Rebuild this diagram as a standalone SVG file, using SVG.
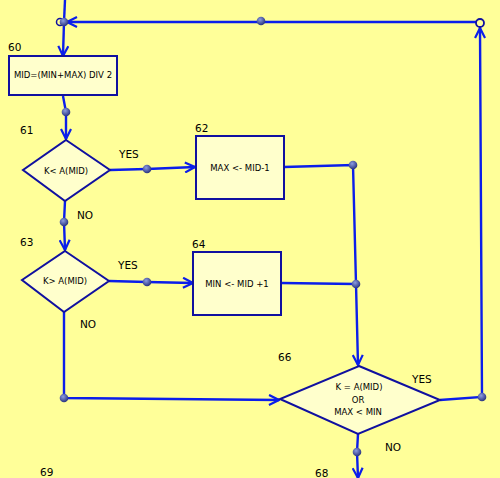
<svg xmlns="http://www.w3.org/2000/svg" width="500" height="478" viewBox="0 0 500 478">
<style>
.bg{fill:#FFFF99}
.node{fill:#FFFFCC;stroke:#1010A0;stroke-width:2}
.c{fill:none;stroke:#0B1EEA;stroke-width:2.4}
.t{font-family:"DejaVu Sans","Liberation Sans",sans-serif;font-size:8.5px;fill:#000;text-anchor:middle}
.lbl{font-family:"DejaVu Sans","Liberation Sans",sans-serif;font-size:10.5px;fill:#000}
.dot{fill:url(#g)}
</style>
<defs>
<radialGradient id="g" cx="0.4" cy="0.35" r="0.7">
<stop offset="0" stop-color="#8C9CE0"/>
<stop offset="1" stop-color="#222C78"/>
</radialGradient>
<marker id="a" viewBox="0 0 12 12" refX="11" refY="6" markerWidth="12" markerHeight="12" markerUnits="userSpaceOnUse" orient="auto">
<path d="M1,1 L11,6 L1,11" fill="none" stroke="#0B1EEA" stroke-width="2.2"/>
</marker>
</defs>
<rect class="bg" width="500" height="478"/>
<g id="connectors">
<path class="c" d="M65,0 L64,22"/>
<path class="c" d="M480,27 L480,22 L67,22" marker-end="url(#a)"/>
<path class="c" d="M64,22 L63,56" marker-end="url(#a)"/>
<path class="c" d="M63,96 L66,112 L66,139" marker-end="url(#a)"/>
<path class="c" d="M110,170 L147,169 L195,167" marker-end="url(#a)"/>
<path class="c" d="M65,201 L64,222 L65,250" marker-end="url(#a)"/>
<path class="c" d="M109,281 L147,282 L193,283" marker-end="url(#a)"/>
<path class="c" d="M284,167 L353,165 L356,284 L358,365" marker-end="url(#a)"/>
<path class="c" d="M281,283 L356,284"/>
<path class="c" d="M64,312 L64,398 L279,400" marker-end="url(#a)"/>
<path class="c" d="M440,400 L482,397 L480,28" marker-end="url(#a)"/>
<path class="c" d="M358,434 L357,452 L358,478" marker-end="url(#a)"/>
<circle cx="60" cy="22" r="3.5" fill="none" stroke="#1010A0" stroke-width="1.5"/>
<circle cx="480" cy="23" r="4" fill="#FFFF99" stroke="#1010A0" stroke-width="1.8"/>
<circle class="dot" cx="64" cy="22" r="4.3"/>
<circle class="dot" cx="261" cy="21" r="4.3"/>
<circle class="dot" cx="66" cy="112" r="4.3"/>
<circle class="dot" cx="147" cy="169" r="4.3"/>
<circle class="dot" cx="64" cy="222" r="4.3"/>
<circle class="dot" cx="147" cy="282" r="4.3"/>
<circle class="dot" cx="353" cy="165" r="4.3"/>
<circle class="dot" cx="356" cy="284" r="4.3"/>
<circle class="dot" cx="64" cy="398" r="4.3"/>
<circle class="dot" cx="482" cy="397" r="4.3"/>
<circle class="dot" cx="357" cy="452" r="4.3"/>
<text class="lbl" x="119" y="158">YES</text>
<text class="lbl" x="77" y="219">NO</text>
<text class="lbl" x="118" y="269">YES</text>
<text class="lbl" x="80" y="328">NO</text>
<text class="lbl" x="412" y="383">YES</text>
<text class="lbl" x="385" y="451">NO</text>
</g>
<g id="n60">
<rect class="node" x="9" y="56" width="108" height="39"/>
<text class="lbl" x="8" y="51">60</text>
<text class="t" x="63" y="78">MID=(MIN+MAX) DIV 2</text>
</g>
<g id="n61">
<polygon class="node" points="66,140 110,170 65,201 23,170"/>
<text class="lbl" x="20" y="134">61</text>
<text class="t" x="66" y="174">K&lt; A(MID)</text>
</g>
<g id="n62">
<rect class="node" x="196" y="136" width="88" height="63"/>
<text class="lbl" x="195" y="132">62</text>
<text class="t" x="240" y="171">MAX &lt;- MID-1</text>
</g>
<g id="n63">
<polygon class="node" points="65,251 109,281 64,312 22,280"/>
<text class="lbl" x="20" y="246">63</text>
<text class="t" x="65" y="284">K&gt; A(MID)</text>
</g>
<g id="n64">
<rect class="node" x="193" y="252" width="88" height="63"/>
<text class="lbl" x="192" y="248">64</text>
<text class="t" x="237" y="287">MIN &lt;- MID +1</text>
</g>
<g id="n66">
<polygon class="node" points="359,366 440,400 358,434 280,399"/>
<text class="lbl" x="278" y="361">66</text>
<text class="t" x="359" y="390">K = A(MID)</text>
<text class="t" x="358" y="403">OR</text>
<text class="t" x="358" y="415">MAX &lt; MIN</text>
</g>
<g id="n68"><text class="lbl" x="315" y="477">68</text></g>
<g id="n69"><text class="lbl" x="40" y="476">69</text></g>
</svg>
